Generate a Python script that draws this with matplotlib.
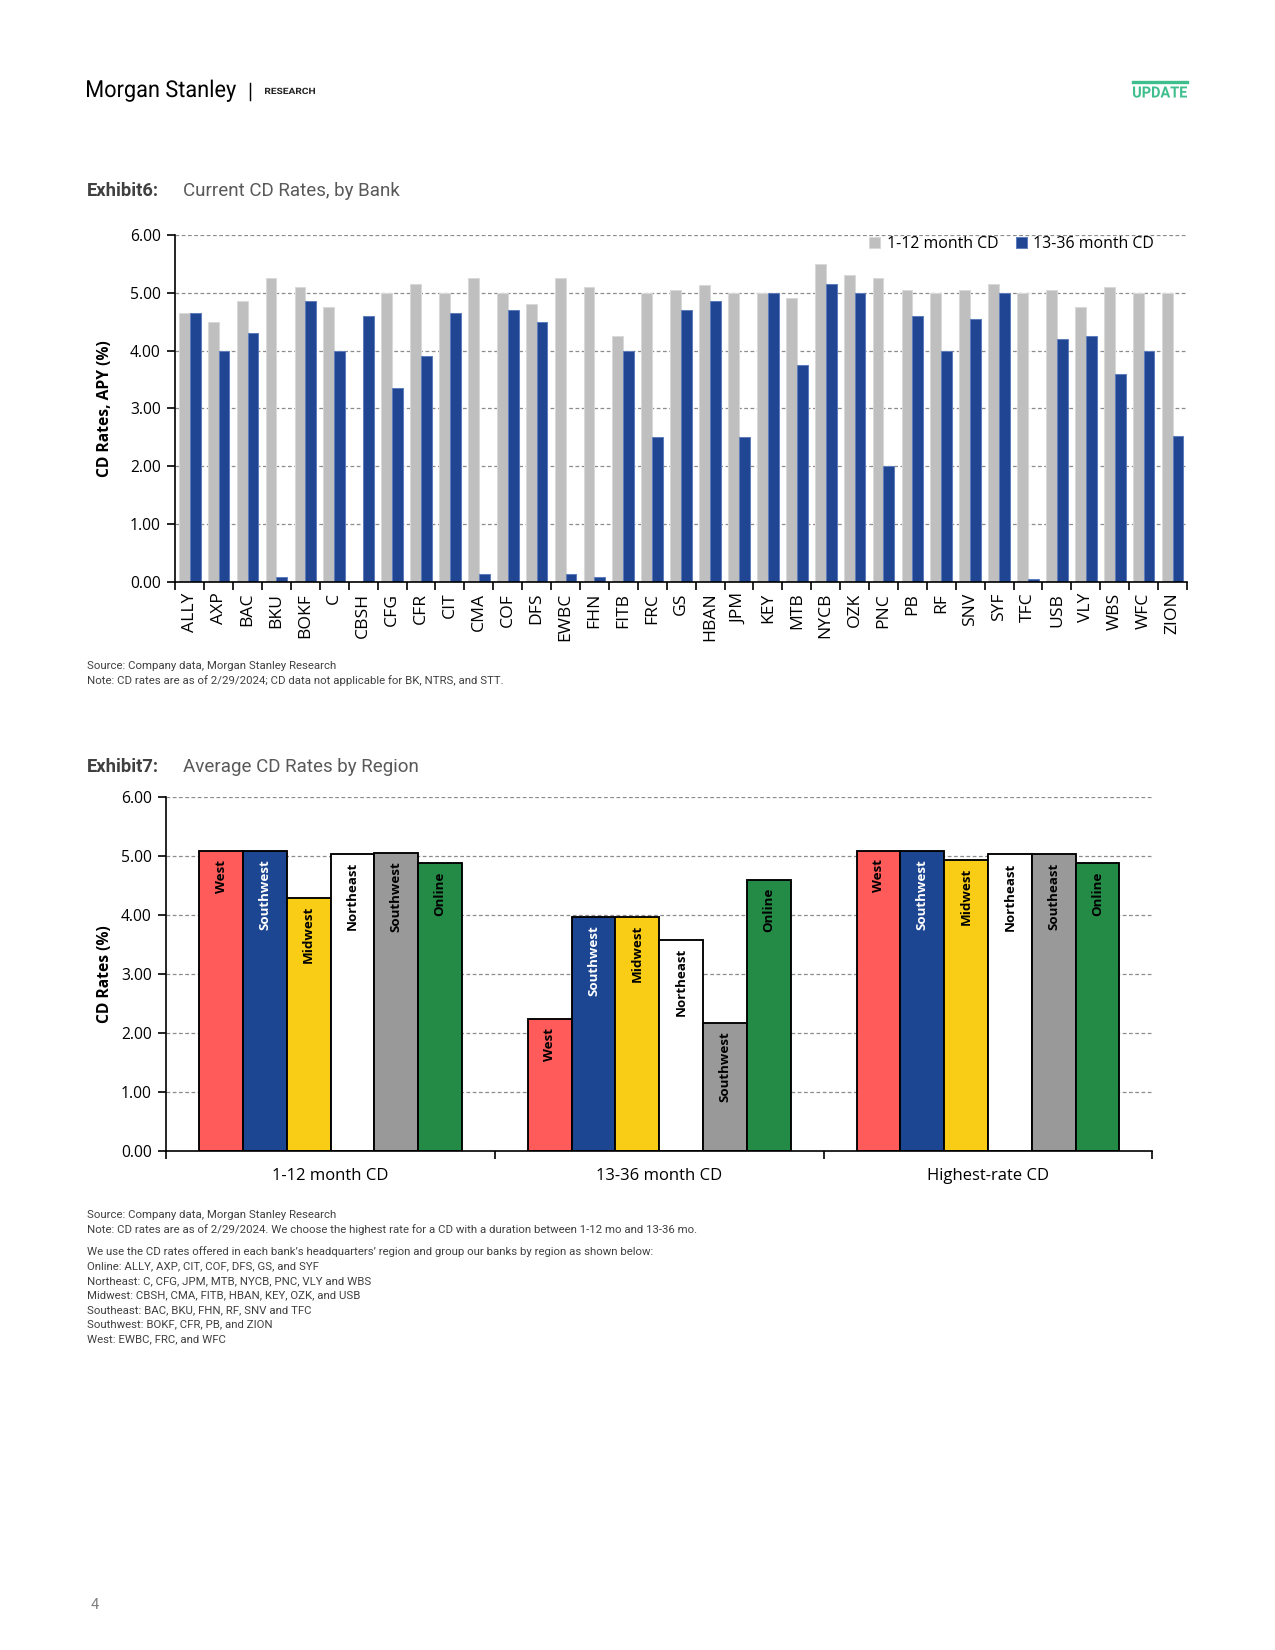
import numpy as np
import matplotlib
matplotlib.use("Agg")
import matplotlib.pyplot as plt
from matplotlib.ticker import FormatStrFormatter
from matplotlib.textpath import TextPath
from matplotlib.patches import PathPatch
from matplotlib.font_manager import FontProperties
from matplotlib.transforms import Affine2D

# ── Exhibit 6 : taux CD par banque ───────────────────────────────────────────
BANKS = ["ALLY", "AXP", "BAC", "BKU", "BOKF", "C", "CBSH", "CFG", "CFR", "CIT",
         "CMA", "COF", "DFS", "EWBC", "FHN", "FITB", "FRC", "GS", "HBAN", "JPM",
         "KEY", "MTB", "NYCB", "OZK", "PNC", "PB", "RF", "SNV", "SYF", "TFC",
         "USB", "VLY", "WBS", "WFC", "ZION"]
CD_1_12 = [4.65, 4.50, 4.85, 5.25, 5.10, 4.75, 0.03, 5.00, 5.15, 5.00,
           5.25, 5.00, 4.80, 5.25, 5.10, 4.25, 5.00, 5.05, 5.13, 5.00,
           5.00, 4.90, 5.50, 5.30, 5.25, 5.05, 5.00, 5.05, 5.15, 5.00,
           5.05, 4.75, 5.10, 5.00, 5.00]
CD_13_36 = [4.65, 4.00, 4.30, 0.10, 4.85, 4.00, 4.60, 3.35, 3.90, 4.65,
            0.15, 4.70, 4.50, 0.15, 0.10, 4.00, 2.50, 4.70, 4.86, 2.50,
            5.00, 3.75, 5.15, 5.00, 2.00, 4.59, 4.00, 4.55, 5.00, 0.05,
            4.20, 4.25, 3.60, 4.00, 2.53]

# ── Exhibit 7 : moyenne par région ───────────────────────────────────────────
GROUPS = ["1-12 month CD", "13-36 month CD", "Highest-rate CD"]
WEST = [5.08, 2.23, 5.09]
SOUTHWEST = [5.08, 3.97, 5.09]
MIDWEST = [4.29, 3.97, 4.94]
NORTHEAST = [5.04, 3.58, 5.03]
SOUTHEAST = [5.05, 2.17, 5.03]
ONLINE = [4.88, 4.60, 4.88]
REGION_SERIES = [WEST, SOUTHWEST, MIDWEST, NORTHEAST, SOUTHEAST, ONLINE]
# libellés tels qu'écrits sur les barres (par série, par groupe)
REGION_LABELS = [
    ["West", "West", "West"],
    ["Southwest", "Southwest", "Southwest"],
    ["Midwest", "Midwest", "Midwest"],
    ["Northeast", "Northeast", "Northeast"],
    ["Southwest", "Southwest", "Southeast"],
    ["Online", "Online", "Online"],
]
REGION_COLORS = ["#FF5B5B", "#1C4592", "#F9CC15", "#FFFFFF", "#999999", "#248B46"]
LABEL_COLORS = ["black", "white", "black", "black", "black", "black"]

SOURCE = "Source: Company data, Morgan Stanley Research"
NOTE6 = "Note: CD rates are as of 2/29/2024; CD data not applicable for BK, NTRS, and STT."
NOTE7 = [
    "Note: CD rates are as of 2/29/2024. We choose the highest rate for a CD with a duration between 1-12 mo and 13-36 mo.",
    None,
    "We use the CD rates offered in each bank\u2019s headquarters\u2019 region and group our banks by region as shown below:",
    "Online: ALLY, AXP, CIT, COF, DFS, GS, and SYF",
    "Northeast: C, CFG, JPM, MTB, NYCB, PNC, VLY and WBS",
    "Midwest: CBSH, CMA, FITB, HBAN, KEY, OZK, and USB",
    "Southeast: BAC, BKU, FHN, RF, SNV and TFC",
    "Southwest: BOKF, CFR, PB, and ZION",
    "West: EWBC, FRC, and WFC",
]

W, H = 1275, 1650
CHART_FONT = ["Open Sans", "DejaVu Sans"]
PAGE_FONT = ["Roboto", "DejaVu Sans"]
GRID_KW = dict(color="#8c8c8c", linestyle=(0, (3, 2)), linewidth=0.6)
NOTE_SIZE = 5.45


def fx(px):
    return px / W


def fy(py):
    return 1 - py / H


def squeezed_text(fig, s, x0, baseline, cap_px, width_px, color, weight="normal"):
    """Texte compressé horizontalement (police étroite absente)."""
    prop = FontProperties(family="Roboto", weight=weight)
    tp = TextPath((0, 0), s, size=cap_px / 0.711, prop=prop)
    ext = tp.get_extents()
    tr = (Affine2D().translate(-ext.x0, 0).scale(width_px / ext.width, 1)
          .translate(x0, H - baseline))
    fig.add_artist(PathPatch(tp, facecolor=color, edgecolor="none", lw=0, transform=tr))


fig = plt.figure(figsize=(W / 150, H / 150), dpi=150)

# ── En-tête ──────────────────────────────────────────────────────────────────
squeezed_text(fig, "Morgan Stanley", 87, 97, 16.5, 149, "black")
fig.add_artist(plt.Line2D([fx(250), fx(250)], [fy(83), fy(100)], color="black", lw=0.7))
squeezed_text(fig, "RESEARCH", 265, 94, 6.2, 50, "#222222", weight="bold")
fig.add_artist(plt.Line2D([fx(1133), fx(1187)], [fy(82), fy(82)], color="#3DBE8C", lw=1.6))
squeezed_text(fig, "UPDATE", 1133, 97.5, 11, 54, "#3DBE8C", weight="bold")

# ── Exhibit 6 ────────────────────────────────────────────────────────────────
fig.text(fx(87), fy(191), "Exhibit6:", family=PAGE_FONT, fontsize=8.8, fontweight="bold",
         va="center", color="#404040")
fig.text(fx(183), fy(191), "Current CD Rates, by Bank", family=PAGE_FONT, fontsize=9.0,
         va="center", color="#595959")

ax1 = fig.add_axes([fx(175.3), fy(582.3), fx(1187) - fx(175.3), (582.3 - 234.7) / H])
x = np.arange(len(BANKS))
bw = 0.375
ax1.bar(x - bw / 2, CD_1_12, bw, color="#BFBFBF", edgecolor="#D9D9D9", linewidth=0.5,
        label="1-12 month CD", zorder=2)
ax1.bar(x + bw / 2, CD_13_36, bw, color="#1F4593", edgecolor="#5E7DBA", linewidth=0.5,
        label="13-36 month CD", zorder=2)
ax1.set_xlim(-0.5, len(BANKS) - 0.5)
ax1.set_ylim(0, 6)
ax1.set_yticks(np.arange(0, 7, 1))
ax1.yaxis.set_major_formatter(FormatStrFormatter("%.2f"))
ax1.set_xticks(np.arange(-0.5, len(BANKS), 1))
ax1.set_xticklabels([])
ax1.set_xticks(x, minor=True)
ax1.set_xticklabels(BANKS, minor=True, rotation=90, family=CHART_FONT, fontsize=8.4)
ax1.tick_params(axis="x", which="major", length=4, width=0.8, direction="out")
ax1.tick_params(axis="x", which="minor", length=0, pad=5)
ax1.tick_params(axis="y", length=4, width=0.8, direction="out", labelsize=7.5, pad=3)
for lab in ax1.get_yticklabels():
    lab.set_family(CHART_FONT)
for yv in range(1, 7):
    ax1.axhline(yv, zorder=1, **GRID_KW)
for s in ["top", "right"]:
    ax1.spines[s].set_visible(False)
for s in ["left", "bottom"]:
    ax1.spines[s].set_linewidth(0.8)
ax1.set_ylabel("CD Rates, APY (%)", family=CHART_FONT, fontsize=7.5, fontweight="bold",
               labelpad=8)
leg = ax1.legend(loc="upper right", bbox_to_anchor=(0.975, 1.018), ncol=2, frameon=False,
                 prop={"family": CHART_FONT, "size": 7.6}, handlelength=0.7,
                 handleheight=0.7, handletextpad=0.4, columnspacing=1.1, borderaxespad=0.1)

fig.text(fx(87), fy(666), SOURCE, family=PAGE_FONT, fontsize=NOTE_SIZE, va="center",
         color="#404040")
fig.text(fx(87), fy(681), NOTE6, family=PAGE_FONT, fontsize=NOTE_SIZE, va="center",
         color="#404040")

# ── Exhibit 7 ────────────────────────────────────────────────────────────────
fig.text(fx(87), fy(767), "Exhibit7:", family=PAGE_FONT, fontsize=8.8, fontweight="bold",
         va="center", color="#404040")
fig.text(fx(183), fy(767), "Average CD Rates by Region", family=PAGE_FONT, fontsize=9.0,
         va="center", color="#595959")

ax2 = fig.add_axes([fx(166.3), fy(1151), fx(1152.3) - fx(166.3), (1151 - 797) / H])
g = np.arange(len(GROUPS))
n = len(REGION_SERIES)
width = 0.8 / n
for i, (vals, col, tcol) in enumerate(zip(REGION_SERIES, REGION_COLORS, LABEL_COLORS)):
    pos = g - 0.4 + width * (i + 0.5)
    ax2.bar(pos, vals, width, color=col, edgecolor="black", linewidth=0.9, zorder=2)
    for p, v, lab in zip(pos, vals, REGION_LABELS[i]):
        ax2.annotate(lab, (p, v), xytext=(0, -4), textcoords="offset points",
                     rotation=90, ha="center", va="top", color=tcol, fontsize=6.4,
                     fontweight="bold", family=CHART_FONT, zorder=3)
ax2.set_xlim(-0.5, len(GROUPS) - 0.5)
ax2.set_ylim(0, 6)
ax2.set_yticks(np.arange(0, 7, 1))
ax2.yaxis.set_major_formatter(FormatStrFormatter("%.2f"))
ax2.set_xticks(np.arange(-0.5, len(GROUPS), 1))
ax2.set_xticklabels([])
ax2.set_xticks(g, minor=True)
ax2.set_xticklabels(GROUPS, minor=True, family=CHART_FONT, fontsize=8)
ax2.tick_params(axis="x", which="major", length=4, width=0.8, direction="out")
ax2.tick_params(axis="x", which="minor", length=0, pad=8)
ax2.tick_params(axis="y", length=4, width=0.8, direction="out", labelsize=7.5, pad=3)
for lab in ax2.get_yticklabels():
    lab.set_family(CHART_FONT)
for yv in range(1, 7):
    ax2.axhline(yv, zorder=1, **GRID_KW)
for s in ["top", "right"]:
    ax2.spines[s].set_visible(False)
for s in ["left", "bottom"]:
    ax2.spines[s].set_linewidth(0.8)
ax2.set_ylabel("CD Rates (%)", family=CHART_FONT, fontsize=7.5, fontweight="bold", labelpad=4)

fig.text(fx(87), fy(1215), SOURCE, family=PAGE_FONT, fontsize=NOTE_SIZE, va="center",
         color="#404040")
ypos = 1230
for line in NOTE7:
    if line is None:
        ypos += 7
        continue
    fig.text(fx(87), fy(ypos), line, family=PAGE_FONT, fontsize=NOTE_SIZE, va="center",
             color="#404040")
    ypos += 14.6

fig.text(fx(91), fy(1605), "4", family=PAGE_FONT, fontsize=7, va="center", color="#7f7f7f")

fig.savefig("out.png", dpi=150)
